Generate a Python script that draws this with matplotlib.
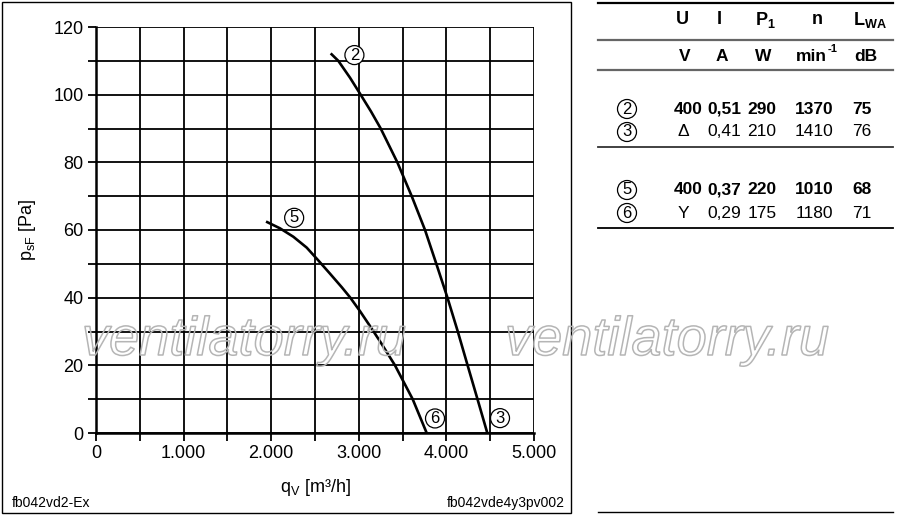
import matplotlib
matplotlib.use("Agg")
import matplotlib.pyplot as plt
import matplotlib.patheffects as pe
from matplotlib.ticker import MultipleLocator, FuncFormatter
from matplotlib.lines import Line2D
from matplotlib.patches import Rectangle

plt.rcParams['font.family'] = ['Liberation Sans', 'DejaVu Sans']
plt.rcParams['mathtext.fontset'] = 'custom'
plt.rcParams['mathtext.rm'] = 'Liberation Sans'

# curve 2 / 3 (high speed, delta)
q_23 = [2679, 2766, 2900, 3021, 3140, 3250, 3440, 3604, 3756, 3885, 4012, 4130, 4242, 4355, 4467]
p_23 = [112.2, 110, 105, 100, 95, 90, 80, 70, 60, 50, 40, 30, 20, 10, 0]
# curve 5 / 6 (low speed, star)
q_56 = [1941, 2100, 2253, 2405, 2538, 2671, 2805, 2900, 3014, 3128, 3242, 3413, 3615, 3775]
p_56 = [62.5, 60.5, 58.0, 54.8, 51.0, 47.1, 43.1, 40.1, 36.0, 31.6, 27.1, 20, 10, 0]

# curve markers: label, q, p
curve_labels = [("2", 2950, 111.7), ("5", 2262, 63.6), ("6", 3870, 4.3), ("3", 4612, 4.4)]

# table
col_heads = ["U", "I", "P$_{\\mathregular{1}}$", "n", "L$_{\\mathregular{WA}}$"]
col_units = ["V", "A", "W", "min", "dB"]
row_ids = ["2", "3", "5", "6"]
row_U = ["400", "\u0394", "400", "Y"]
row_I = ["0,51", "0,41", "0,37", "0,29"]
row_P = ["290", "210", "220", "175"]
row_n = ["1370", "1410", "1010", "1180"]
row_L = ["75", "76", "68", "71"]
row_bold = [True, False, True, False]

W, H = 900, 520
fig = plt.figure(figsize=(9, 5.2), dpi=100)
ax = fig.add_axes([96 / W, 1 - 433 / H, 438 / W, 406 / H])

def px(x, y):
    return x / W, 1 - y / H

ax.plot(q_23, p_23, color='black', lw=1.9, zorder=3, solid_capstyle='butt')
ax.plot(q_56, p_56, color='black', lw=1.9, zorder=3, solid_capstyle='butt')
for lab, q, p in curve_labels:
    ax.text(q, p, lab, fontsize=12, ha='center', va='center', zorder=4,
            bbox=dict(boxstyle='circle,pad=0.12', fc='white', ec='black', lw=0.9))

ax.set_xlim(0, 5000)
ax.set_ylim(0, 120)
ax.xaxis.set_major_locator(MultipleLocator(500))
ax.yaxis.set_major_locator(MultipleLocator(10))
ax.xaxis.set_major_formatter(FuncFormatter(
    lambda v, _: ("%d.000" % (v // 1000) if v > 0 else "0") if int(v) % 1000 == 0 else ""))
ax.yaxis.set_major_formatter(FuncFormatter(lambda v, _: "%d" % v if int(v) % 20 == 0 else ""))
ax.grid(True, color='black', lw=1.3)
ax.set_axisbelow(True)
ax.tick_params(direction='out', length=6, width=1.3, labelsize=13, pad=3)
for s in ['top', 'right']:
    ax.spines[s].set_visible(False)
for s in ['left', 'bottom']:
    ax.spines[s].set_linewidth(1.8)

fig.text(*px(28, 230), "p$_{\\mathregular{sF}}$ [Pa]", rotation=90, fontsize=13, ha='center', va='center')
fig.text(*px(315, 487), "q$_{\\mathregular{V}}$ [m\u00b3/h]", fontsize=13, ha='center', va='center')
fig.text(*px(12, 503), "fb042vd2-Ex", fontsize=10, ha='left', va='center')
fig.text(*px(565, 503), "fb042vde4y3pv002", fontsize=10, ha='right', va='center')

fig.patches.append(Rectangle(px(2, 513), 569 / W, 511 / H, transform=fig.transFigure,
                             fill=False, ec='black', lw=1.0))

# table lines
for y, c, lw in [(3, 'black', 1.6), (40, '#666666', 1.6), (70, '#666666', 1.6),
                 (147, '#333333', 1.3), (228, 'black', 1.3), (512, 'black', 1.0)]:
    x0, y0 = px(598, y)
    x1, _ = px(893, y)
    fig.add_artist(Line2D([x0, x1], [y0, y0], color=c, lw=lw, transform=fig.transFigure))

head_x = [682, 719, 765, 817, 870]
unit_x = [685, 722, 763, 811, 866]
val_x = [688, 724, 762, 814, 862]
for hx, ux, h, u in zip(head_x, unit_x, col_heads, col_units):
    fig.text(*px(hx, 20), h, fontsize=13, fontweight='bold', ha='center', va='center')
    fig.text(*px(ux, 56), u, fontsize=12.5, fontweight='bold', ha='center', va='center')
fig.text(*px(828, 49), "-1", fontsize=8, fontweight='bold', ha='left', va='center')

row_y = [109, 132, 190, 213]
for i, y in enumerate(row_y):
    fig.text(*px(627, y), row_ids[i], fontsize=12, ha='center', va='center',
             bbox=dict(boxstyle='circle,pad=0.12', fc='white', ec='black', lw=0.9))
    vals = [row_U[i], row_I[i], row_P[i], row_n[i], row_L[i]]
    for j, (x, v) in enumerate(zip(val_x, vals)):
        if j == 0 and not row_bold[i]:
            x = 683
        fig.text(*px(x, y), v, fontsize=12.5, ha='center', va='center',
                 fontweight='bold' if row_bold[i] else 'normal')

# watermark (outline only)
for x in [82, 505]:
    fig.text(*px(x, 355), "ventilatorry.ru", fontsize=39, style='italic', ha='left',
             va='baseline', color='none', zorder=10,
             path_effects=[pe.Stroke(linewidth=1.1, foreground='#b5b5b5')])

fig.savefig("out.png", dpi=100)
